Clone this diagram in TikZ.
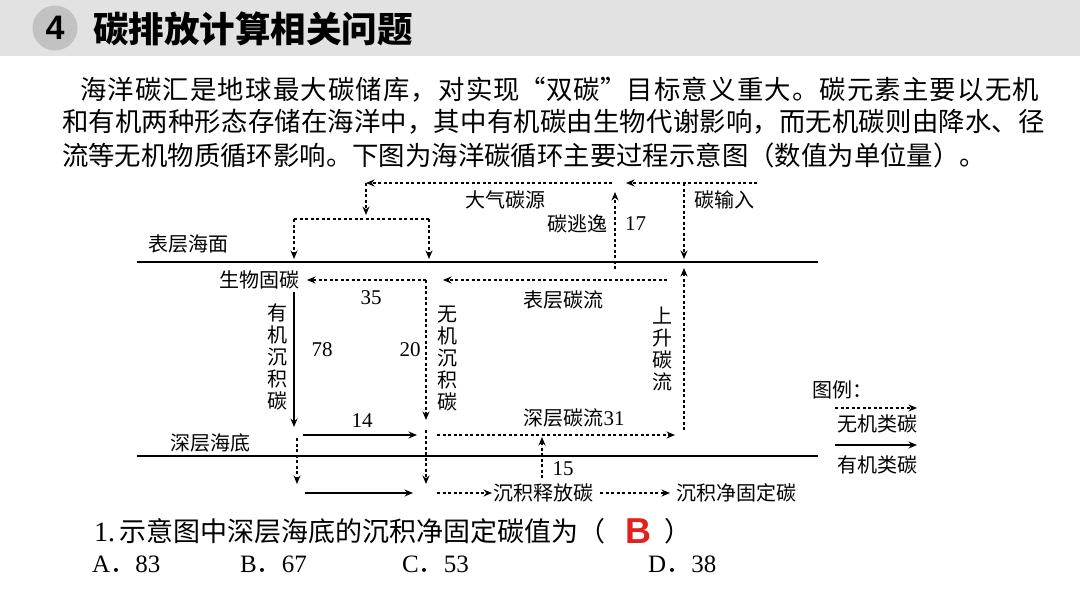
\documentclass[tikz,border=0pt]{standalone}
\usepackage{fontspec}
\setmainfont{Liberation Serif}
\newfontfamily\cjk{Noto Sans CJK SC}
\newfontfamily\hd{Liberation Sans}
\usepackage{xcolor}
\usetikzlibrary{arrows.meta, positioning}

\definecolor{bandgray}{HTML}{E2E2E2}
\definecolor{ballgray}{HTML}{C2C2C2}
\definecolor{ansred}{HTML}{E2211C}

\newcommand{\cnlq}{\makebox[1em][r]{“}}
\newcommand{\cnrq}{\makebox[1em][l]{”}}

\begin{document}
\begin{tikzpicture}[
    x=1pt, y=-1pt,
    txt/.style={anchor=west, inner sep=0pt, font=\cjk\fontsize{26.4}{30}\selectfont},
    lab/.style={inner sep=0pt, font=\cjk\fontsize{20}{22}\selectfont},
    vlab/.style={lab, align=center},
    num/.style={inner sep=0pt, font=\fontsize{21}{22}\selectfont},
    opt/.style={anchor=west, inner sep=0pt, font=\fontsize{25}{26}\selectfont},
    sea/.style={line width=1.6pt},
    flow/.style={line width=1.3pt, -{Stealth[length=8.5pt,width=7pt]}},
    iline/.style={line width=1.3pt, dash pattern=on 3pt off 2.5pt},
    iflow/.style={flow, dash pattern=on 3pt off 2.5pt}
]
\useasboundingbox (0,0) rectangle (1080,608);
\fill[white] (0,0) rectangle (1080,608);

% header band
\fill[bandgray] (0,0) rectangle (1080,56);
\node[circle, fill=ballgray, minimum size=45pt, inner sep=0pt,
  font=\hd\bfseries\fontsize{34}{34}\selectfont] (ball) at (55,28) {4};
\node[anchor=west, inner sep=0pt, font=\cjk\bfseries\fontsize{35.5}{38}\selectfont]
  (title) at (93,29) {碳排放计算相关问题};

% text
\node[txt] (para1) at (80,90) {\addfontfeatures{LetterSpace=4.4}海洋碳汇是地球最大碳储库，对实现\cnlq 双碳\cnrq 目标意义重大。碳元素主要以无机};
\node[txt] (para2) at (62,122) {\addfontfeatures{LetterSpace=0.6}和有机两种形态存储在海洋中，其中有机碳由生物代谢影响，而无机碳则由降水、径};
\node[txt] (para3) at (62,155) {流等无机物质循环影响。下图为海洋碳循环主要过程示意图（数值为单位量）。};

% sea surface and sea floor
\coordinate (sL) at (137,262);
\coordinate (sR) at (818,262);
\coordinate (dL) at (137,456);
\coordinate (dR) at (818,456);
\draw[sea] (sL) -- (sR);
\draw[sea] (dL) -- (dR);
\node[lab, anchor=west] (surf) at (148,244) {表层海面};
\node[lab, anchor=west] (deep) at (170,443) {深层海底};

% atmosphere
\coordinate (inR) at (757,183);
\coordinate (inL) at (626,183);
\coordinate (inJ) at (684,183);
\coordinate (inS) at (684,259);
\coordinate (esB) at (615,269);
\coordinate (esT) at (615,192);
\coordinate (atR) at (612,183);
\coordinate (atL) at (366,183);
\coordinate (atD) at (366,215);
\coordinate (brL) at (294,219);
\coordinate (brR) at (429,219);
\coordinate (fixT) at (294,259);
\coordinate (inoT) at (429,259);
\draw[iflow] (inR) -- (inL);
\draw[iflow] (inJ) -- (inS);
\draw[iflow] (esB) -- (esT);
\draw[iflow] (atR) -- (atL);
\draw[iflow] (atL) -- (atD);
\draw[iline] (brL) -- (brR);
\draw[iflow] (brL) -- (fixT);
\draw[iflow] (brR) -- (inoT);
\node[lab] (atm) at (505,200) {大气碳源};
\node[lab, anchor=east] (esc) at (608,224) {碳逃逸};
\node[num, anchor=west] (n17) at (625,224) {17};
\node[lab, anchor=west] (cin) at (694,200) {碳输入};

% surface layer
\node[lab, anchor=east] (bio) at (300,280) {生物固碳};
\coordinate (sfJ) at (426,280);
\coordinate (sfR) at (667,280);
\coordinate (sfT) at (443,280);
\draw[iflow, shorten >=7pt] (sfJ) -- (bio);
\draw[iflow] (sfR) -- (sfT);
\node[num] (n35) at (371,298) {35};
\node[lab] (sflow) at (563,300) {表层碳流};

% upwelling
\coordinate (upB) at (684,430);
\coordinate (upT) at (684,268);
\draw[iflow] (upB) -- (upT);
\node[vlab] (up) at (662,349) {上\\升\\碳\\流};

% deposition
\coordinate (odT) at (294,292);
\coordinate (odB) at (294,427);
\coordinate (ideB) at (426,420);
\draw[flow] (odT) -- (odB);
\draw[iflow] (sfJ) -- (ideB);
\node[vlab] (ode) at (277,357) {有\\机\\沉\\积\\碳};
\node[vlab] (ide) at (447,359) {无\\机\\沉\\积\\碳};
\node[num] (n78) at (322,350) {78};
\node[num] (n20) at (410,350) {20};

% deep layer
\coordinate (d14L) at (303,435);
\coordinate (d14R) at (417,435);
\coordinate (dcL) at (437,435);
\coordinate (dcR) at (675,435);
\coordinate (rlB) at (542,478);
\coordinate (rlT) at (542,437);
\draw[flow] (d14L) -- (d14R);
\draw[iflow] (dcL) -- (dcR);
\draw[iflow] (rlB) -- (rlT);
\node[num] (n14) at (362,421) {14};
\node[lab] (dflow) at (574,418) {深层碳流{\rmfamily\fontsize{21}{22}\selectfont 31}};
\node[num] (n15) at (563,469) {15};

% sediment
\coordinate (obT) at (297,438);
\coordinate (obB) at (297,484);
\coordinate (ibT) at (426,430);
\coordinate (ibB) at (426,484);
\coordinate (boL) at (305,493);
\coordinate (boR) at (413,493);
\coordinate (biL) at (437,493);
\draw[iflow] (obT) -- (obB);
\draw[iflow] (ibT) -- (ibB);
\draw[flow] (boL) -- (boR);
\node[lab, anchor=west] (rel) at (493,493) {沉积释放碳};
\node[lab, anchor=west] (net) at (676,493) {沉积净固定碳};
\draw[iflow, shorten >=1pt] (biL) -- (rel);
\draw[iflow, shorten <=7pt, shorten >=6pt] (rel) -- (net);

% legend
\node[lab, anchor=west] (leg) at (812,390) {图例：};
\coordinate (lgIL) at (835,408);
\coordinate (lgIR) at (917,408);
\coordinate (lgOL) at (835,445);
\coordinate (lgOR) at (917,445);
\draw[iflow] (lgIL) -- (lgIR);
\draw[flow] (lgOL) -- (lgOR);
\node[lab] (legI) at (877,424) {无机类碳};
\node[lab] (legO) at (877,465) {有机类碳};

% question
\node[anchor=west, inner sep=0pt, font=\cjk\fontsize{27}{28}\selectfont]
  (q1) at (94,531) {{\rmfamily\fontsize{28}{28}\selectfont 1.}\hspace{4pt}示意图中深层海底的沉积净固定碳值为（};
\node[inner sep=0pt, font=\hd\bfseries\fontsize{36}{36}\selectfont, text=ansred]
  (ans) at (638,531) {B};
\node[inner sep=0pt, font=\cjk\fontsize{27}{28}\selectfont] (q1r) at (678,531) {）};
\node[opt] (oA) at (92,564) {A{\cjk ．}83};
\node[opt] (oB) at (240,564) {B{\cjk ．}67};
\node[opt] (oC) at (402,564) {C{\cjk ．}53};
\node[opt] (oD) at (648,564) {D{\cjk ．}38};
\end{tikzpicture}
\end{document}
